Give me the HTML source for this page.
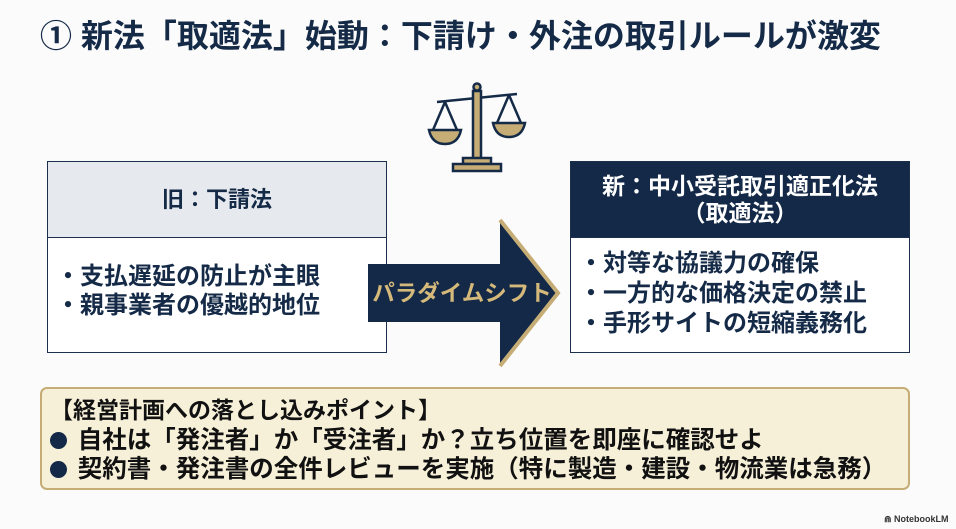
<!DOCTYPE html>
<html><head><meta charset="utf-8"><style>
body{margin:0;width:956px;height:529px;background:#fbfbfb;position:relative;overflow:hidden;font-family:"Liberation Sans","Noto Sans CJK JP",sans-serif;color:#142a47}
.abs{position:absolute}
.title{left:40px;top:15px;font-size:32px;font-weight:bold;white-space:nowrap;letter-spacing:0px;line-height:42px}
.box{border:1.5px solid #1c2f4d;background:#fff;box-sizing:border-box}
.hd{position:absolute;left:0;right:0;top:0;height:75px;display:flex;align-items:center;justify-content:center;text-align:center;font-weight:bold;font-size:22px;line-height:27px;border-bottom:1.5px solid #1c2f4d}
.li{position:absolute;font-size:24px;font-weight:bold;white-space:nowrap;line-height:29px}
.bot{left:40px;top:387px;width:870px;height:103px;background:#f7f0d9;border:2.5px solid #c6ad76;border-radius:7px;box-sizing:border-box}
.bl{position:absolute;left:8px;font-size:24.5px;font-weight:bold;white-space:nowrap;color:#111;line-height:30px}
.dot{display:inline-block;width:17px;height:17px;border-radius:50%;background:#132947;margin-right:4px;vertical-align:-1px}
</style></head><body>
<div class="abs title">① 新法「取適法」始動：下請け・外注の取引ルールが激変</div>

<svg class="abs" style="left:425px;top:80px" width="105" height="95" viewBox="0 0 105 95">
<g stroke="#142a47" stroke-width="2.5" fill="none">
<line x1="12" y1="22" x2="92" y2="14"/>
<circle cx="52" cy="7" r="3.5" fill="#c6ad76"/>
<rect x="48" y="11" width="8" height="70" fill="#c6ad76"/>
<line x1="20" y1="22" x2="8" y2="50"/><line x1="20" y1="22" x2="32" y2="50"/>
<line x1="84" y1="15" x2="72" y2="43"/><line x1="84" y1="15" x2="96" y2="43"/>
<path d="M4 50 H36 Q33 64 20 64 Q7 64 4 50Z" fill="#c6ad76"/>
<path d="M68 43 H100 Q97 57 84 57 Q71 57 68 43Z" fill="#c6ad76"/>
<rect x="38" y="78" width="28" height="6" fill="#c6ad76"/>
<rect x="28" y="84" width="48" height="7" fill="#c6ad76"/>
</g></svg>

<div class="abs box" style="left:47px;top:161px;width:340px;height:192px">
<div class="hd" style="background:#e6e9ee">旧：下請法</div>
<div class="li" style="left:8px;top:100px">・支払遅延の防止が主眼</div>
<div class="li" style="left:8px;top:129px">・親事業者の優越的地位</div>
</div>

<div class="abs box" style="left:570px;top:161px;width:340px;height:192px">
<div class="hd" style="background:#132947;color:#fff;font-size:23px">新：中小受託取引適正化法<br>（取適法）</div>
<div class="li" style="left:8px;top:87px">・対等な協議力の確保</div>
<div class="li" style="left:8px;top:117px">・一方的な価格決定の禁止</div>
<div class="li" style="left:8px;top:147px">・手形サイトの短縮義務化</div>
</div>

<svg class="abs" style="left:360px;top:215px" width="205" height="158" viewBox="0 0 205 158">
<path d="M8 49 H140 V5 L198 78 L140 151 V107 H8Z" fill="#132947"/>
<path d="M140 5 L198 78 L140 151" fill="none" stroke="#c6ad76" stroke-width="4"/>
<text x="102" y="86" text-anchor="middle" font-size="22.5" font-weight="bold" fill="#d4b97a" font-family="Liberation Sans,Noto Sans CJK JP,sans-serif">パラダイムシフト</text>
</svg>

<div class="abs bot">
<div class="bl" style="top:6px;font-size:23px">【経営計画への落とし込みポイント】</div>
<div class="bl" style="top:37px"><span class="dot"></span> 自社は「発注者」か「受注者」か？立ち位置を即座に確認せよ</div>
<div class="bl" style="top:66px"><span class="dot"></span> 契約書・発注書の全件レビューを実施（特に製造・建設・物流業は急務）</div>
</div>

<div class="abs" style="left:884px;top:514px;font-size:9px;font-weight:bold;color:#333">⋒ NotebookLM</div>
</body></html>
